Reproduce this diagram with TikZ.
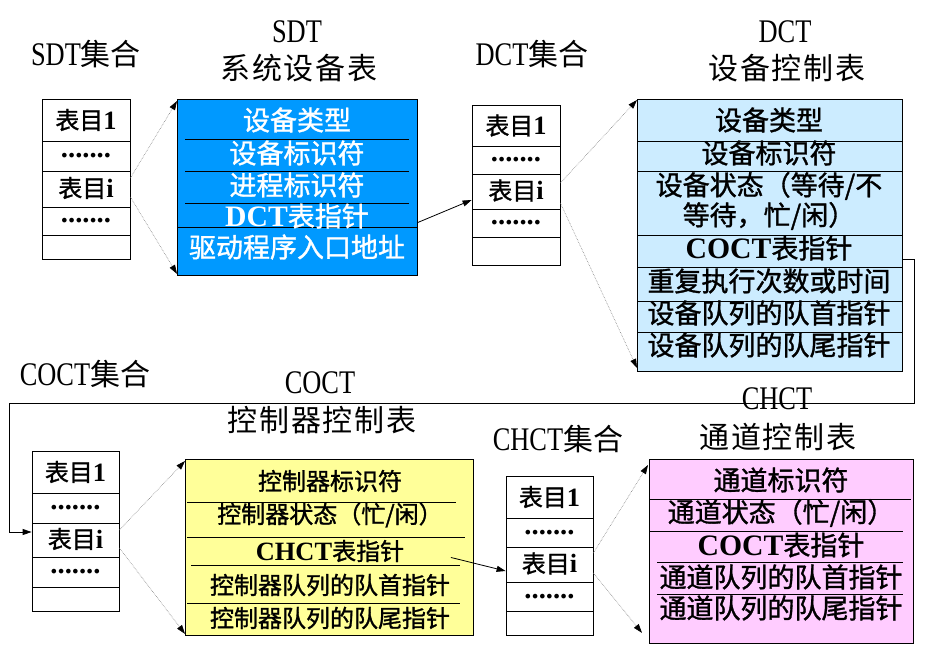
\documentclass[tikz,border=0pt]{standalone}
\usepackage{fontspec}
\setmainfont{Liberation Serif}[Scale=1.1]
\newfontfamily\cjk{Noto Sans CJK SC}[FakeBold=1.2]
\newfontfamily\cjkn{Noto Sans CJK SC}
\newfontfamily\cjkt{Noto Sans CJK SC}[LetterSpace=6]
\newfontfamily\lat{Liberation Serif}[FakeStretch=0.8,Scale=1.1]
\usetikzlibrary{arrows.meta}
\definecolor{sdtblue}{HTML}{0099FF}
\definecolor{dctblue}{HTML}{CCECFF}
\definecolor{cocyel}{HTML}{FFFF99}
\definecolor{chpink}{HTML}{FFCCFF}
\tikzset{
  title/.style={inner sep=0pt, font=\fontsize{30}{34}\selectfont},
  cellbox/.style={draw, line width=0.8pt, minimum width=88pt, inner sep=0pt, font=\fontsize{24}{26}\selectfont},
  tablebox/.style={draw, line width=0.9pt, inner sep=0pt, anchor=north west},
  rowtxt/.style={inner sep=0pt, font=\fontsize{27}{29}\selectfont},
  smalltxt/.style={inner sep=0pt, font=\fontsize{24}{26}\selectfont},
  sep/.style={line width=0.8pt},
  dotptr/.style={draw=gray, densely dotted, line width=0.6pt, -{Triangle[length=9pt,width=6pt,black]}},
  ptr/.style={line width=0.8pt, -{Triangle[length=9pt,width=6pt]}}
}
\newcommand{\biao}{{\cjk 表目}}
\newcommand{\biaoi}{\raisebox{4pt}{\biao\textbf{i}}}
\newcommand{\dotrow}{\raisebox{-2pt}{\bfseries\fontsize{26}{26}\selectfont .......}}
\begin{document}
\begin{tikzpicture}[x=1pt,y=-1pt]
\useasboundingbox (0,0) rectangle (937,659);

% ---------- titles ----------
\node[title] (tsdtset) at (86,54) {{\lat SDT}{\cjkn 集合}};
\node[title] (tsdt1) at (297,32) {\lat SDT};
\node[title] (tsdt2) at (299,68) {\cjkt 系统设备表};
\node[title] (tdctset) at (532,54) {{\lat DCT}{\cjkn 集合}};
\node[title] (tdct1) at (785,32) {\lat DCT};
\node[title] (tdct2) at (787,68) {\cjkt 设备控制表};
\node[title] (tcocset) at (85,374) {{\lat COCT}{\cjkn 集合}};
\node[title] (tcoc1) at (320,383) {\lat COCT};
\node[title] (tcoc2) at (322,420) {\cjkt 控制器控制表};
\node[title] (tchset) at (558,439) {{\lat CHCT}{\cjkn 集合}};
\node[title] (tch1) at (777,399) {\lat CHCT};
\node[title] (tch2) at (778,437) {\cjkt 通道控制表};

% ---------- SDT set ----------
\node[cellbox, minimum height=42pt] (sdt1) at (86,120) {\biao\textbf{1}};
\node[cellbox, minimum height=30pt] (sdtd1) at (86,156) {\dotrow};
\node[cellbox, minimum height=36pt] (sdti) at (86,189) {\biaoi};
\node[cellbox, minimum height=28pt] (sdtd2) at (86,221) {\dotrow};
\node[cellbox, minimum height=24pt] (sdte) at (86,247) {};

% ---------- DCT set ----------
\node[cellbox, minimum height=41pt] (dct1) at (516,125.5) {\biao\textbf{1}};
\node[cellbox, minimum height=28pt] (dctd1) at (516,160) {\dotrow};
\node[cellbox, minimum height=35pt] (dcti) at (516,191.5) {\biaoi};
\node[cellbox, minimum height=28pt] (dctd2) at (516,223) {\dotrow};
\node[cellbox, minimum height=28pt] (dcte) at (516,251) {};

% ---------- COCT set ----------
\node[cellbox, minimum width=87pt, minimum height=42pt] (coc1) at (75.5,472) {\biao\textbf{1}};
\node[cellbox, minimum width=87pt, minimum height=30pt] (cocd1) at (75.5,508) {\dotrow};
\node[cellbox, minimum width=87pt, minimum height=34pt] (coci) at (75.5,540) {\biaoi};
\node[cellbox, minimum width=87pt, minimum height=30pt] (cocd2) at (75.5,572) {\dotrow};
\node[cellbox, minimum width=87pt, minimum height=24pt] (coce) at (75.5,599) {};

% ---------- CHCT set ----------
\node[cellbox, minimum width=87pt, minimum height=42pt] (ch1) at (549.5,497) {\biao\textbf{1}};
\node[cellbox, minimum width=87pt, minimum height=29pt] (chd1) at (549.5,532.5) {\dotrow};
\node[cellbox, minimum width=87pt, minimum height=35pt] (chi) at (549.5,564.5) {\biaoi};
\node[cellbox, minimum width=87pt, minimum height=29pt] (chd2) at (549.5,596.5) {\dotrow};
\node[cellbox, minimum width=87pt, minimum height=24pt] (che) at (549.5,623) {};

% ---------- SDT table ----------
\node[tablebox, fill=sdtblue, minimum width=240pt, minimum height=176pt] (sdtbox) at (177,99) {};
\draw[sep] (185,139) -- (409,139);
\draw[sep] (185,171) -- (409,171);
\draw[sep] (185,203) -- (409,203);
\draw[sep] (177,227) -- (417,227);
\node[rowtxt, text=white] (sdtr1) at (297,120) {\cjk 设备类型};
\node[rowtxt, text=white] (sdtr2) at (297,153) {\cjk 设备标识符};
\node[rowtxt, text=white] (sdtr3) at (297,185) {\cjk 进程标识符};
\node[rowtxt, text=white] (sdtr4) at (297,216) {\textbf{DCT}{\cjk 表指针}};
\node[rowtxt, text=white] (sdtr5) at (297,247) {\cjk 驱动程序入口地址};

% ---------- DCT table ----------
\node[tablebox, fill=dctblue, minimum width=265pt, minimum height=272pt] (dctbox) at (637,99) {};
\foreach \yy in {141,171,235,267,301,332} \draw[sep] (637,\yy) -- (902,\yy);
\node[rowtxt] (dctr1) at (769,120) {\cjk 设备类型};
\node[rowtxt] (dctr2) at (769,153) {\cjk 设备标识符};
\node[rowtxt] (dctr3a) at (769,186) {\cjk 设备状态（等待/不};
\node[rowtxt] (dctr3b) at (769,216) {\cjk 等待，忙/闲）};
\node[rowtxt] (dctr4) at (769,248) {\textbf{COCT}{\cjk 表指针}};
\node[rowtxt] (dctr5) at (769,281) {\cjk 重复执行次数或时间};
\node[rowtxt] (dctr6) at (769,313) {\cjk 设备队列的队首指针};
\node[rowtxt] (dctr7) at (769,345) {\cjk 设备队列的队尾指针};

% ---------- COCT table ----------
\node[tablebox, fill=cocyel, minimum width=288pt, minimum height=176pt] (cocbox) at (185,459) {};
\draw[sep] (187,502) -- (456,502);
\draw[sep] (187,537) -- (465,537);
\draw[sep] (191,565) -- (460,565);
\draw[sep] (187,603) -- (460,603);
\node[smalltxt] (cocr1) at (330,481) {\cjk 控制器标识符};
\node[smalltxt] (cocr2) at (330,515) {\cjk 控制器状态（忙/闲）};
\node[smalltxt] (cocr3) at (330,551) {\textbf{CHCT}{\cjk 表指针}};
\node[smalltxt] (cocr4) at (330,585) {\cjk 控制器队列的队首指针};
\node[smalltxt] (cocr5) at (330,618) {\cjk 控制器队列的队尾指针};

% ---------- CHCT table ----------
\node[tablebox, fill=chpink, minimum width=264pt, minimum height=184pt] (chbox) at (649,459) {};
\draw[sep] (649,499) -- (911,499);
\draw[sep] (649,531) -- (903,531);
\draw[sep] (657,562) -- (903,562);
\draw[sep] (657,594) -- (903,594);
\node[rowtxt] (chr1) at (781,480) {\cjk 通道标识符};
\node[rowtxt] (chr2) at (781,513) {\cjk 通道状态（忙/闲）};
\node[rowtxt] (chr3) at (781,545) {\textbf{COCT}{\cjk 表指针}};
\node[rowtxt] (chr4) at (781,577) {\cjk 通道队列的队首指针};
\node[rowtxt] (chr5) at (781,608) {\cjk 通道队列的队尾指针};

% ---------- set -> table (dotted) ----------
\draw[dotptr] ([yshift=11pt]sdti.east) -- ([yshift=-2pt]sdtbox.north west);
\draw[dotptr] ([yshift=-8pt]sdti.east) -- ([yshift=2pt]sdtbox.south west);
\draw[dotptr] ([yshift=8.5pt]dcti.east) -- ([yshift=-1pt]dctbox.north west);
\draw[dotptr] ([yshift=-11.5pt]dcti.east) -- ([yshift=4pt]dctbox.south west);
\draw[dotptr] ([yshift=10pt]coci.east) -- ([yshift=-2pt]cocbox.north west);
\draw[dotptr] ([yshift=-8pt]coci.east) -- ([yshift=2pt]cocbox.south west);
\draw[dotptr] ([yshift=11.5pt]chi.east) -- ([shift={(-1pt,-6pt)}]chbox.north west);
\draw[dotptr] ([yshift=-8.5pt]chi.east) -- ([shift={(-7pt,11pt)}]chbox.south west);

% ---------- pointers ----------
\draw[ptr] ([yshift=-35pt]sdtbox.east) -- ([yshift=-8.5pt]dcti.west);
\draw[ptr] ([yshift=-24pt]dctbox.east) -- ++(11,0) |- (9,403) |- ([yshift=8pt]coci.west);
\draw[ptr] ([shift={(-23pt,-10pt)}]cocbox.east) -- ([yshift=-6.5pt]chi.west);
\end{tikzpicture}
\end{document}
